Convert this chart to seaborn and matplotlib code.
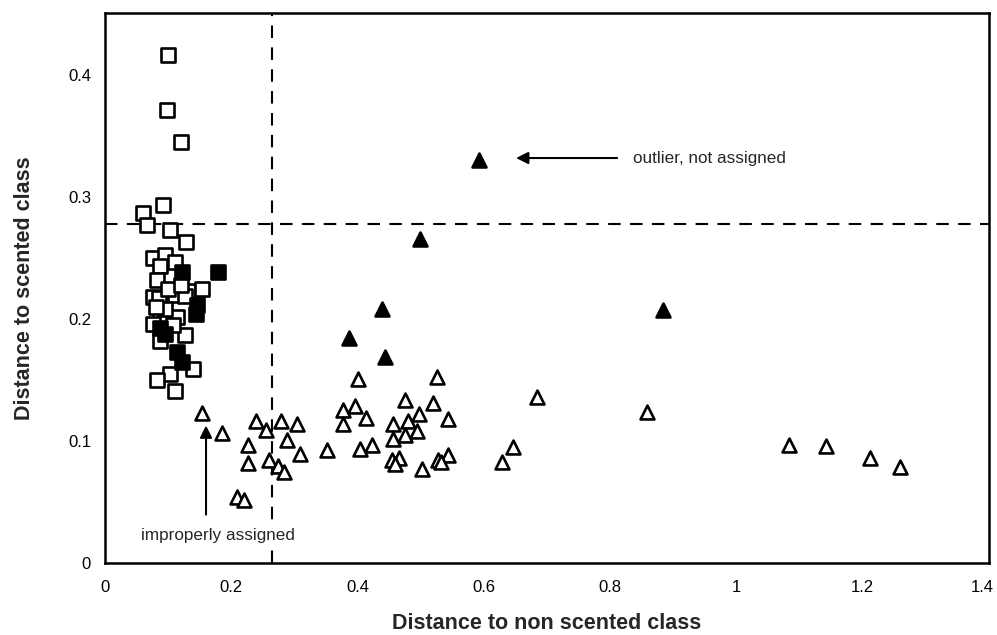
import matplotlib
matplotlib.use("Agg")
import matplotlib.pyplot as plt
import matplotlib.transforms as mtransforms
import seaborn as sns
import pandas as pd

# ---- data ----
sq_open_x = [0.100, 0.099, 0.120, 0.092, 0.060, 0.066, 0.103, 0.128, 0.0755, 0.095,
             0.111, 0.087, 0.083, 0.132, 0.153, 0.0765, 0.086, 0.111, 0.127, 0.087,
             0.1135, 0.0765, 0.127, 0.087, 0.140, 0.103, 0.082, 0.111, 0.100, 0.120,
             0.095, 0.108, 0.080]
sq_open_y = [0.4165, 0.371, 0.345, 0.2935, 0.287, 0.277, 0.273, 0.2635, 0.2505, 0.2527,
             0.247, 0.2437, 0.232, 0.223, 0.2247, 0.218, 0.2175, 0.2195, 0.219, 0.203,
             0.202, 0.196, 0.187, 0.1825, 0.159, 0.155, 0.150, 0.141, 0.225, 0.228,
             0.208, 0.195, 0.210]

sq_fill_x = [0.1215, 0.1795, 0.146, 0.144, 0.087, 0.095, 0.1145, 0.1215]
sq_fill_y = [0.239, 0.239, 0.212, 0.2047, 0.193, 0.188, 0.173, 0.165]

tri_open_x = [0.153, 0.185, 0.239, 0.255, 0.278, 0.3036, 0.226, 0.2888, 0.2265, 0.260,
              0.2745, 0.2835, 0.309, 0.2085, 0.220, 0.352, 0.3775, 0.396, 0.3765, 0.4134,
              0.404, 0.4224, 0.401, 0.5263, 0.6837, 0.475, 0.520, 0.498, 0.480, 0.4566,
              0.5437, 0.4937, 0.475, 0.4566, 0.454, 0.466, 0.459, 0.5016, 0.528, 0.5437,
              0.532, 0.6293, 0.6467, 0.859, 1.083, 1.142, 1.2116, 1.2586]
tri_open_y = [0.123, 0.107, 0.1166, 0.109, 0.1166, 0.1144, 0.0967, 0.1008, 0.0823, 0.0845,
              0.0796, 0.075, 0.0894, 0.0545, 0.0518, 0.0932, 0.1253, 0.1286, 0.1139, 0.1193,
              0.094, 0.0967, 0.1512, 0.1525, 0.1362, 0.1335, 0.1313, 0.1226, 0.117, 0.1139,
              0.1185, 0.1084, 0.1049, 0.1022, 0.0845, 0.0867, 0.0812, 0.0777, 0.085, 0.0886,
              0.0835, 0.0831, 0.0953, 0.1239, 0.0969, 0.096, 0.0863, 0.0793]

tri_fill_x = [0.592, 0.499, 0.438, 0.884, 0.387, 0.4435]
tri_fill_y = [0.330, 0.2655, 0.208, 0.2075, 0.185, 0.169]

threshold_x = 0.2645
threshold_y = 0.278

x_ticks = [0, 0.2, 0.4, 0.6, 0.8, 1.0, 1.2, 1.4]
x_tick_labels = ["0", "0.2", "0.4", "0.6", "0.8", "1", "1.2", "1.4"]
y_ticks = [0, 0.1, 0.2, 0.3, 0.4]
y_tick_labels = ["0", "0.1", "0.2", "0.3", "0.4"]

x_label = "Distance to non scented class"
y_label = "Distance to scented class"
outlier_text = "outlier, not assigned"
improper_text = "improperly assigned"

# ---- plotting ----
sns.set_style("white")
plt.rcParams["font.family"] = ["Liberation Sans", "DejaVu Sans"]

fig = plt.figure(figsize=(9.97, 6.35), dpi=100)
ax = fig.add_axes([0.1053, 0.1126, 0.8867, 0.8674])

groups = [
    (sq_open_x, sq_open_y, "s", "white", 110),
    (sq_fill_x, sq_fill_y, "s", "black", 110),
    (tri_open_x, tri_open_y, "^", "white", 100),
    (tri_fill_x, tri_fill_y, "^", "black", 100),
]
for gx, gy, mk, fc, sz in groups:
    df = pd.DataFrame({"x": gx, "y": gy})
    sns.scatterplot(data=df, x="x", y="y", marker=mk, s=sz,
                    facecolor=fc, edgecolor="black", linewidth=1.9, ax=ax, zorder=3)

ax.axvline(threshold_x, color="black", lw=1.5, ls=(0, (6, 4.5)), zorder=2)
ax.axhline(threshold_y, color="black", lw=1.5, ls=(0, (6, 4.5)), zorder=2)

ax.annotate("", xy=(0.651, 0.332), xytext=(0.811, 0.332),
            arrowprops=dict(arrowstyle="-|>", color="black", lw=1.5,
                            mutation_scale=18, shrinkA=0, shrinkB=0))
ax.text(0.836, 0.332, outlier_text, fontsize=12.3, va="center", ha="left")

ax.annotate("", xy=(0.160, 0.113), xytext=(0.160, 0.040),
            arrowprops=dict(arrowstyle="-|>", color="black", lw=1.5,
                            mutation_scale=18, shrinkA=0, shrinkB=0))
ax.text(0.179, 0.023, improper_text, fontsize=12.3, va="center", ha="center",
        zorder=4, bbox=dict(facecolor="white", edgecolor="none", pad=1.0))

ax.set_xlim(0, 1.4)
ax.set_ylim(0, 0.451)
ax.set_xticks(x_ticks)
ax.set_xticklabels(x_tick_labels)
ax.set_yticks(y_ticks)
ax.set_yticklabels(y_tick_labels)
ax.tick_params(axis="both", direction="out", length=4, width=1, color="black",
               labelsize=12, labelcolor="black")
ax.tick_params(axis="x", pad=8)
ax.tick_params(axis="y", pad=6)
# nudge the last x label so it stays inside the figure
last = ax.get_xticklabels()[-1]
last.set_transform(last.get_transform() +
                   mtransforms.ScaledTranslation(-7 / 100, 0, fig.dpi_scale_trans))
ax.set_xlabel(x_label, fontsize=15.5, fontweight="bold", labelpad=13)
ax.set_ylabel(y_label, fontsize=15.5, fontweight="bold", labelpad=24)
for sp in ax.spines.values():
    sp.set_visible(True)
    sp.set_color("black")
    sp.set_linewidth(1.8)
ax.grid(False)

fig.savefig("out.png", dpi=100)
